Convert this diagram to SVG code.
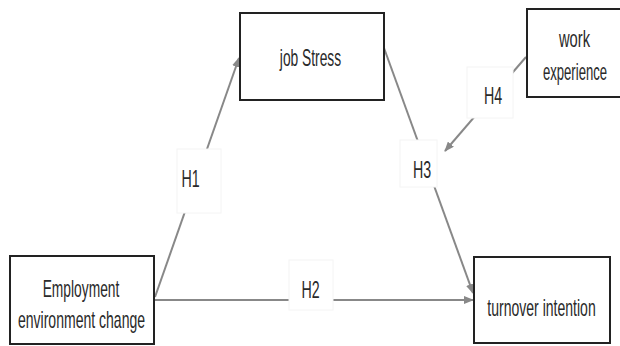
<svg xmlns="http://www.w3.org/2000/svg" width="620" height="346" viewBox="0 0 620 346">
<style>
.box{fill:#fff;stroke:#222;stroke-width:2}
.lbl{fill:#fff;stroke:#f4f4f4;stroke-width:1}
.t{font-family:"Liberation Sans","Noto Sans",sans-serif;font-size:23px;fill:#2a2a2a;text-anchor:middle}
.c{stroke:#888;stroke-width:2;fill:none}
</style>
<defs>
<marker id="ah" markerUnits="userSpaceOnUse" markerWidth="10" markerHeight="8" refX="9" refY="4" orient="auto">
<path d="M0,0 L10,4 L0,8 z" fill="#888"/>
</marker>
</defs>
<rect width="620" height="346" fill="#fff"/>
<g id="connectors">
<line class="c" x1="155" y1="297" x2="239" y2="58" marker-end="url(#ah)"/>
<line class="c" x1="155" y1="300" x2="473" y2="300" stroke-width="3" marker-end="url(#ah)"/>
<line class="c" x1="384" y1="48" x2="473" y2="293" marker-end="url(#ah)"/>
<line class="c" x1="526" y1="57" x2="445" y2="151" marker-end="url(#ah)"/>
</g>
<g id="label-H1"><rect class="lbl" x="177" y="149" width="44" height="64"/><text class="t" transform="translate(190.5,187) scale(0.62,1)">H1</text></g>
<g id="label-H2"><rect class="lbl" x="289" y="260" width="44" height="50"/><text class="t" transform="translate(310.5,298) scale(0.62,1)">H2</text></g>
<g id="label-H3"><rect class="lbl" x="400" y="140" width="37" height="47"/><text class="t" transform="translate(422,178) scale(0.62,1)">H3</text></g>
<g id="label-H4"><rect class="lbl" x="467" y="67" width="46" height="51"/><text class="t" transform="translate(493,104) scale(0.62,1)">H4</text></g>
<g id="node-employment">
<rect class="box" x="10" y="256" width="144" height="88"/>
<text class="t" transform="translate(81,297) scale(0.6,1)">Employment</text>
<text class="t" transform="translate(81.5,328) scale(0.61,1)">environment change</text>
</g>
<g id="node-jobstress">
<rect class="box" x="240" y="13" width="144" height="87"/>
<text class="t" transform="translate(310.5,66) scale(0.6,1)">job Stress</text>
</g>
<g id="node-work">
<rect class="box" x="527" y="9" width="96" height="88"/>
<text class="t" transform="translate(574.5,47) scale(0.64,1)">work</text>
<text class="t" transform="translate(575,80) scale(0.57,1)">experience</text>
</g>
<g id="node-turnover">
<rect class="box" x="474" y="257" width="136" height="86"/>
<text class="t" transform="translate(541.5,316) scale(0.61,1)">turnover intention</text>
</g>
</svg>
